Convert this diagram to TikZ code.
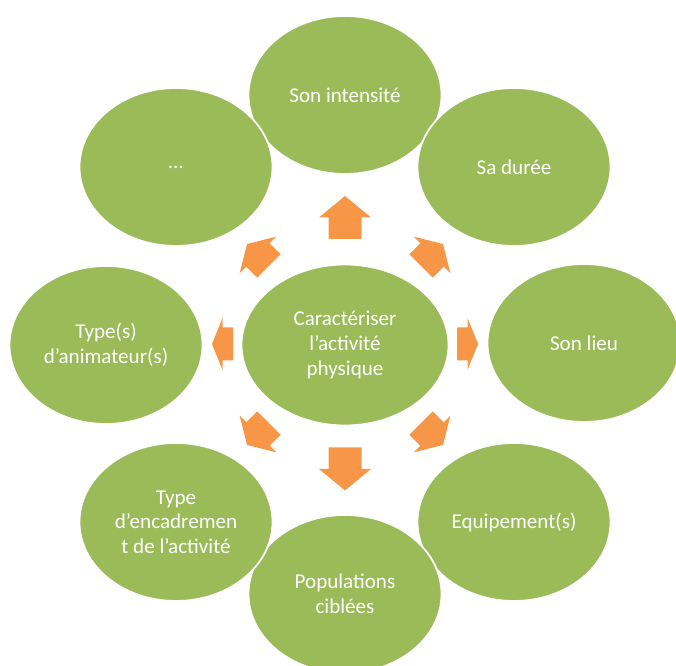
\documentclass[tikz,border=0pt]{standalone}
\usepackage{fontspec}
\setmainfont{Carlito}
\usepackage{tikz}
\usetikzlibrary{shapes,arrows,positioning}
\usepackage{xcolor}
\definecolor{vertolive}{HTML}{9BBB59}
\definecolor{orangefl}{HTML}{F79646}

\begin{document}
\begin{tikzpicture}[
    bulle/.style={ellipse, fill=vertolive, draw=white, line width=1pt, text=white,
      align=center, font=\fontsize{12}{14}\selectfont, inner sep=0pt,
      minimum width=3.86cm, minimum height=3.16cm},
    fleche/.style={fill=orangefl}]
      \path[use as bounding box, clip] (0,0) rectangle (13.52,13.32);

      % Centre
      \node[bulle, minimum width=4.14cm, minimum height=3.22cm] (centre) at (6.9,6.42) {Caractériser\\l’activité\\physique};

      % Bulles autour
      \node[bulle] (intensite) at (6.9,11.42) {Son intensité};
      \node[bulle] (duree) at (10.28,9.98) {Sa durée};
      \node[bulle] (lieu) at (11.68,6.46) {Son lieu};
      \node[bulle] (equip) at (10.28,2.88) {Equipement(s)};
      \node[bulle] (popu) at (6.9,1.44) {Populations\\ciblées};
      \node[bulle] (encadr) at (3.52,2.88) {Type\\d’encadremen\\t de l’activité};
      \node[bulle] (anim) at (2.12,6.42) {Type(s)\\d’animateur(s)};
      \node[bulle] (autres) at (3.52,9.98) {…};

      % Flèches
      \fill[fleche, shift={(6.9,8.97)}, rotate=90] (-0.43,-0.33) -- (0,-0.33) -- (0,-0.52) -- (0.43,0) -- (0,0.52) -- (0,0.33) -- (-0.43,0.33) -- cycle;
      \fill[fleche, shift={(8.64,8.22)}, rotate=45] (-0.31,-0.33) -- (0,-0.33) -- (0,-0.52) -- (0.31,0) -- (0,0.52) -- (0,0.33) -- (-0.31,0.33) -- cycle;
      \fill[fleche, shift={(9.35,6.44)}, rotate=0] (-0.21,-0.33) -- (0,-0.33) -- (0,-0.52) -- (0.21,0) -- (0,0.52) -- (0,0.33) -- (-0.21,0.33) -- cycle;
      \fill[fleche, shift={(8.64,4.64)}, rotate=-45] (-0.31,-0.33) -- (0,-0.33) -- (0,-0.52) -- (0.31,0) -- (0,0.52) -- (0,0.33) -- (-0.31,0.33) -- cycle;
      \fill[fleche, shift={(6.9,3.94)}, rotate=-90] (-0.43,-0.33) -- (0,-0.33) -- (0,-0.52) -- (0.43,0) -- (0,0.52) -- (0,0.33) -- (-0.43,0.33) -- cycle;
      \fill[fleche, shift={(5.16,4.64)}, rotate=-135] (-0.31,-0.33) -- (0,-0.33) -- (0,-0.52) -- (0.31,0) -- (0,0.52) -- (0,0.33) -- (-0.31,0.33) -- cycle;
      \fill[fleche, shift={(4.45,6.44)}, rotate=180] (-0.21,-0.33) -- (0,-0.33) -- (0,-0.52) -- (0.21,0) -- (0,0.52) -- (0,0.33) -- (-0.21,0.33) -- cycle;
      \fill[fleche, shift={(5.16,8.22)}, rotate=135] (-0.31,-0.33) -- (0,-0.33) -- (0,-0.52) -- (0.31,0) -- (0,0.52) -- (0,0.33) -- (-0.31,0.33) -- cycle;
\end{tikzpicture}
\end{document}
